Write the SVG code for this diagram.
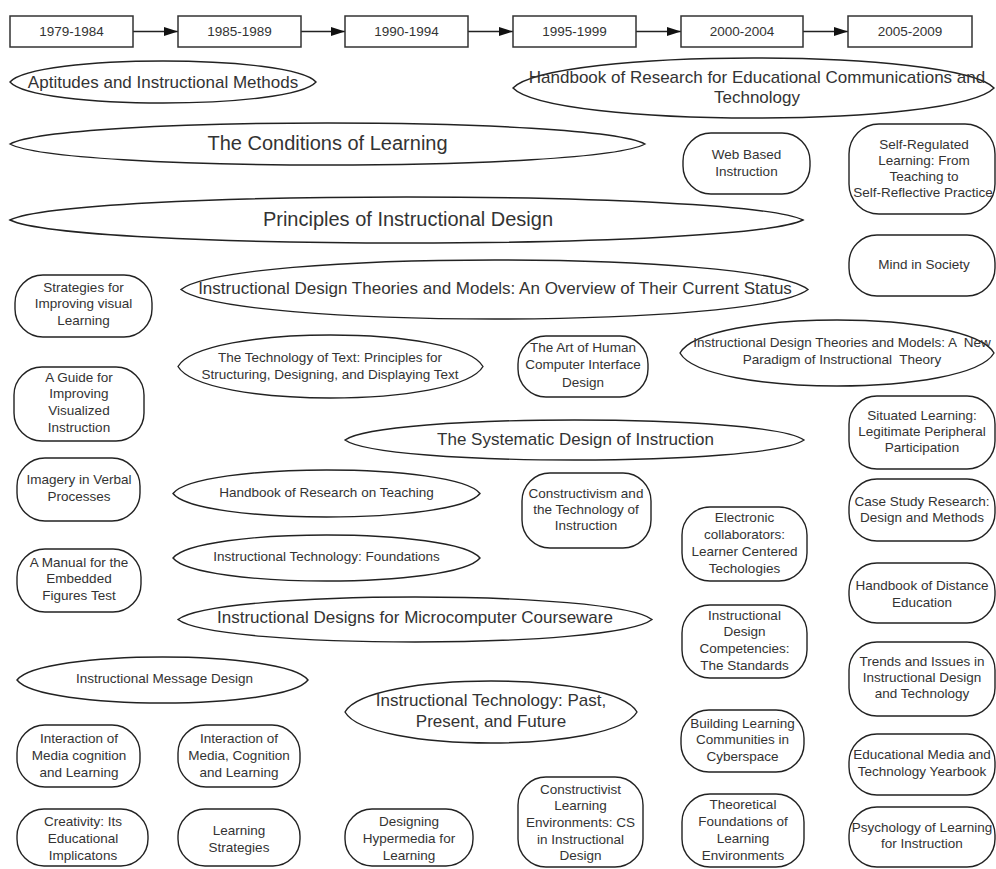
<svg xmlns="http://www.w3.org/2000/svg" width="996" height="869" viewBox="0 0 996 869">
<defs>
<style>
.yr{fill:#fff;stroke:#333;stroke-width:1.5}
.el{fill:#fff;stroke:#222;stroke-width:1.4}
.bx{fill:#fff;stroke:#222;stroke-width:1.4}
.cn{stroke:#222;stroke-width:1.4;fill:none}
text{font-family:"Liberation Sans",Arial,sans-serif;fill:#333;text-anchor:middle;dominant-baseline:central}
.s{font-size:13.5px}
.m{font-size:17px}
.l{font-size:20px}
</style>
<marker id="ah" markerUnits="userSpaceOnUse" markerWidth="15" markerHeight="10" refX="14" refY="5" orient="auto">
<path d="M0,0.5 L14,5 L0,9.5 Z" fill="#111"/>
</marker>
</defs>
<rect width="996" height="869" fill="#fff"/>

<g id="connectors">
<line class="cn" x1="133" y1="31.5" x2="178" y2="31.5" marker-end="url(#ah)"/>
<line class="cn" x1="301" y1="31.5" x2="345" y2="31.5" marker-end="url(#ah)"/>
<line class="cn" x1="468" y1="31.5" x2="513" y2="31.5" marker-end="url(#ah)"/>
<line class="cn" x1="636" y1="31.5" x2="681" y2="31.5" marker-end="url(#ah)"/>
<line class="cn" x1="803" y1="31.5" x2="848" y2="31.5" marker-end="url(#ah)"/>
</g>

<g id="y1979"><rect class="yr" x="10" y="16" width="123" height="31"/><text class="s" x="71.5" y="31.5">1979-1984</text></g>
<g id="y1985"><rect class="yr" x="178" y="16" width="123" height="31"/><text class="s" x="239.5" y="31.5">1985-1989</text></g>
<g id="y1990"><rect class="yr" x="345" y="16" width="123" height="31"/><text class="s" x="406.5" y="31.5">1990-1994</text></g>
<g id="y1995"><rect class="yr" x="513" y="16" width="123" height="31"/><text class="s" x="574.5" y="31.5">1995-1999</text></g>
<g id="y2000"><rect class="yr" x="681" y="16" width="122" height="31"/><text class="s" x="742" y="31.5">2000-2004</text></g>
<g id="y2005"><rect class="yr" x="848" y="16" width="124" height="31"/><text class="s" x="910" y="31.5">2005-2009</text></g>

<g id="aptitudes"><path class="el" d="M10,82 C34.5,54 291.5,54 316,82 C291.5,110 34.5,110 10,82Z"/><text class="m" x="163" y="82">Aptitudes and Instructional Methods</text></g>
<g id="handbook-comm"><path class="el" d="M513,88 C551.5,48 955.5,48 994,88 C955.5,128 551.5,128 513,88Z"/><text class="m" x="757" y="77">Handbook of Research for Educational Communications and</text><text class="m" x="757" y="97">Technology</text></g>
<g id="conditions"><path class="el" d="M10,144 C61,116 594,116 645,144 C594,172 61,172 10,144Z"/><text class="l" x="327.5" y="143">The Conditions of Learning</text></g>
<g id="principles"><path class="el" d="M10,220 C73,189.3 740,189.3 803,220 C740,250.7 73,250.7 10,220Z"/><text class="l" x="408" y="219">Principles of Instructional Design</text></g>
<g id="overview"><path class="el" d="M181,289.5 C231,250.2 758,250.2 808,289.5 C758,328.8 231,328.8 181,289.5Z"/><text class="m" x="495" y="288">Instructional Design Theories and Models: An Overview of Their Current Status</text></g>
<g id="tech-text"><path class="el" d="M178,366.5 C202.4,324.5 458.6,324.5 483,366.5 C458.6,408.5 202.4,408.5 178,366.5Z"/><text class="s" x="330" y="357">The Technology of Text: Principles for</text><text class="s" x="330" y="374">Structuring, Designing, and Displaying Text</text></g>
<g id="new-paradigm"><path class="el" d="M680,353 C705,309 969,309 994,353 C969,397 705,397 680,353Z"/><text class="s" x="842" y="342" xml:space="preserve">Instructional Design Theories and Models: A  New</text><text class="s" x="842" y="359" xml:space="preserve">Paradigm of Instructional  Theory</text></g>
<g id="systematic"><path class="el" d="M345,440 C381.7,413.3 767.3,413.3 804,440 C767.3,466.7 381.7,466.7 345,440Z"/><text class="m" x="575.5" y="439">The Systematic Design of Instruction</text></g>
<g id="hb-teaching"><path class="el" d="M173,493.5 C197.6,462.2 455.4,462.2 480,493.5 C455.4,524.8 197.6,524.8 173,493.5Z"/><text class="s" x="326.5" y="492">Handbook of Research on Teaching</text></g>
<g id="it-foundations"><path class="el" d="M173,558 C197.6,527.3 455.4,527.3 480,558 C455.4,588.7 197.6,588.7 173,558Z"/><text class="s" x="326.5" y="556">Instructional Technology: Foundations</text></g>
<g id="microcomputer"><path class="el" d="M178,619.5 C216,589.5 614,589.5 652,619.5 C614,649.5 216,649.5 178,619.5Z"/><text class="m" x="415" y="617">Instructional Designs for Microcomputer Courseware</text></g>
<g id="message"><path class="el" d="M17,680 C40.3,649.3 284.7,649.3 308,680 C284.7,710.7 40.3,710.7 17,680Z"/><text class="s" x="164.5" y="678">Instructional Message Design</text></g>
<g id="it-past"><path class="el" d="M345,712 C368.4,670.7 613.6,670.7 637,712 C613.6,753.3 368.4,753.3 345,712Z"/><text class="m" x="491" y="700">Instructional Technology: Past,</text><text class="m" x="491" y="721">Present, and Future</text></g>

<g id="strategies"><rect class="bx" x="15" y="275" width="137" height="62" rx="28"/><text class="s" x="83.5" y="287">Strategies for</text><text class="s" x="83.5" y="303.5">Improving visual</text><text class="s" x="83.5" y="320">Learning</text></g>
<g id="guide"><rect class="bx" x="14" y="367" width="130" height="74" rx="28"/><text class="s" x="79" y="377">A Guide for</text><text class="s" x="79" y="393.7">Improving</text><text class="s" x="79" y="410.3">Visualized</text><text class="s" x="79" y="427">Instruction</text></g>
<g id="imagery"><rect class="bx" x="17" y="458" width="123" height="63" rx="28"/><text class="s" x="79" y="479">Imagery in Verbal</text><text class="s" x="79" y="496">Processes</text></g>
<g id="manual"><rect class="bx" x="17" y="549" width="124" height="63" rx="28"/><text class="s" x="79" y="562">A Manual for the</text><text class="s" x="79" y="578.5">Embedded</text><text class="s" x="79" y="595">Figures Test</text></g>
<g id="interaction1"><rect class="bx" x="17" y="725" width="123" height="62" rx="28"/><text class="s" x="79" y="738">Interaction of</text><text class="s" x="79" y="755">Media cognition</text><text class="s" x="79" y="772">and Learning</text></g>
<g id="interaction2"><rect class="bx" x="178" y="725" width="122" height="62" rx="28"/><text class="s" x="239" y="738">Interaction of</text><text class="s" x="239" y="755">Media, Cognition</text><text class="s" x="239" y="772">and Learning</text></g>
<g id="creativity"><rect class="bx" x="17" y="809" width="131" height="57" rx="27"/><text class="s" x="83" y="821">Creativity: Its</text><text class="s" x="83" y="838">Educational</text><text class="s" x="83" y="855">Implicatons</text></g>
<g id="learning-strategies"><rect class="bx" x="178" y="809" width="122" height="57" rx="27"/><text class="s" x="239" y="830">Learning</text><text class="s" x="239" y="847">Strategies</text></g>
<g id="hypermedia"><rect class="bx" x="345" y="809" width="128" height="57" rx="27"/><text class="s" x="409" y="821">Designing</text><text class="s" x="409" y="838">Hypermedia for</text><text class="s" x="409" y="855">Learning</text></g>
<g id="art-hci"><rect class="bx" x="518" y="336" width="130" height="61" rx="28"/><text class="s" x="583" y="347">The Art of Human</text><text class="s" x="583" y="364.5">Computer Interface</text><text class="s" x="583" y="382">Design</text></g>
<g id="constructivism"><rect class="bx" x="522" y="473" width="129" height="75" rx="28"/><text class="s" x="586" y="493">Constructivism and</text><text class="s" x="586" y="509">the Technology of</text><text class="s" x="586" y="525">Instruction</text></g>
<g id="constructivist-le"><rect class="bx" x="518" y="777" width="125" height="90" rx="28"/><text class="s" x="580.5" y="789">Constructivist</text><text class="s" x="580.5" y="805.7">Learning</text><text class="s" x="580.5" y="822.4">Environments: CS</text><text class="s" x="580.5" y="839.1">in Instructional</text><text class="s" x="580.5" y="855.8">Design</text></g>
<g id="web"><rect class="bx" x="683" y="133" width="127" height="61" rx="28"/><text class="s" x="746.5" y="154">Web Based</text><text class="s" x="746.5" y="171.5">Instruction</text></g>
<g id="electronic"><rect class="bx" x="682" y="507" width="125" height="74" rx="28"/><text class="s" x="744.5" y="517">Electronic</text><text class="s" x="744.5" y="534">collaborators:</text><text class="s" x="744.5" y="551">Learner Centered</text><text class="s" x="744.5" y="568">Techologies</text></g>
<g id="competencies"><rect class="bx" x="682" y="605" width="125" height="73" rx="28"/><text class="s" x="744.5" y="615">Instructional</text><text class="s" x="744.5" y="631.7">Design</text><text class="s" x="744.5" y="648.4">Competencies:</text><text class="s" x="744.5" y="665">The Standards</text></g>
<g id="building"><rect class="bx" x="681" y="710" width="123" height="62" rx="28"/><text class="s" x="742.5" y="723">Building Learning</text><text class="s" x="742.5" y="739.5">Communities in</text><text class="s" x="742.5" y="756">Cyberspace</text></g>
<g id="theoretical"><rect class="bx" x="682" y="794" width="122" height="73" rx="28"/><text class="s" x="743" y="804">Theoretical</text><text class="s" x="743" y="821">Foundations of</text><text class="s" x="743" y="838">Learning</text><text class="s" x="743" y="855">Environments</text></g>
<g id="self-regulated"><rect class="bx" x="849" y="124" width="146" height="90" rx="30"/><text class="s" x="924" y="144">Self-Regulated</text><text class="s" x="924" y="160">Learning: From</text><text class="s" x="924" y="176">Teaching to</text><text class="s" x="923" y="192">Self-Reflective Practice</text></g>
<g id="mind"><rect class="bx" x="849" y="235" width="146" height="61" rx="28"/><text class="s" x="924" y="264">Mind in Society</text></g>
<g id="situated"><rect class="bx" x="849" y="396" width="146" height="73" rx="28"/><text class="s" x="922" y="415">Situated Learning:</text><text class="s" x="922" y="431">Legitimate Peripheral</text><text class="s" x="922" y="447">Participation</text></g>
<g id="case-study"><rect class="bx" x="849" y="479" width="146" height="62" rx="28"/><text class="s" x="922" y="501">Case Study Research:</text><text class="s" x="922" y="517">Design and Methods</text></g>
<g id="distance"><rect class="bx" x="849" y="563" width="146" height="60" rx="28"/><text class="s" x="922" y="585">Handbook of Distance</text><text class="s" x="922" y="602">Education</text></g>
<g id="trends"><rect class="bx" x="849" y="642" width="146" height="74" rx="28"/><text class="s" x="922" y="661">Trends and Issues in</text><text class="s" x="922" y="677">Instructional Design</text><text class="s" x="922" y="693">and Technology</text></g>
<g id="edmedia"><rect class="bx" x="849" y="734" width="146" height="61" rx="28"/><text class="s" x="922" y="754">Educational Media and</text><text class="s" x="922" y="771">Technology Yearbook</text></g>
<g id="psychology"><rect class="bx" x="849" y="807" width="146" height="60" rx="28"/><text class="s" x="922" y="827">Psychology of Learning</text><text class="s" x="922" y="843">for Instruction</text></g>
</svg>
